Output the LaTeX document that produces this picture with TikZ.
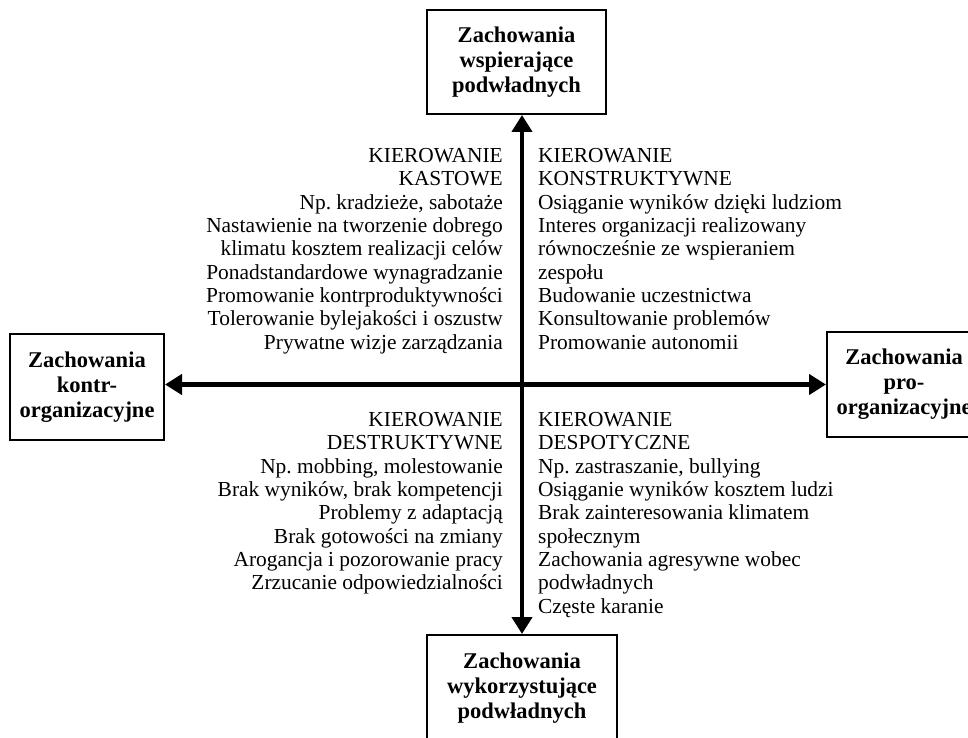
\documentclass[tikz,border=0pt]{standalone}
\usepackage{fontspec}
\setmainfont{Liberation Serif}
\usetikzlibrary{arrows.meta}
\frenchspacing
\begin{document}
\begin{tikzpicture}[x=1pt,y=-1pt,
  box/.style={draw, line width=2pt, align=center, inner sep=0pt,
    font=\bfseries\fontsize{22.5}{25}\selectfont},
  quad/.style={inner sep=0pt, font=\fontsize{21.4}{23.35}\selectfont},
  axis/.style={line width=4.5pt, {Triangle[length=17pt,width=20pt]}-{Triangle[length=17pt,width=20pt]}}]
  \useasboundingbox (0,0) rectangle (968,738);
  \clip (0,0) rectangle (968,738);
  \fill[white] (0,0) rectangle (968,738);

  % the four pole boxes
  \node[box, minimum width=179pt, minimum height=104pt] (top) at (516.5,62)
    {Zachowania\\wspierające\\podwładnych};
  \node[box, minimum width=154pt, minimum height=106pt] (left) at (87,387)
    {Zachowania\\kontr-\\organizacyjne};
  \node[box, minimum width=154pt, minimum height=105pt] (right) at (904,384.5)
    {Zachowania\\pro-\\organizacyjne};
  \node[box, minimum width=190pt, minimum height=106pt] (bottom) at (522,688)
    {Zachowania\\wykorzystujące\\podwładnych};

  % the two axes
  \draw[axis] (bottom.north) -- (bottom.north |- top.south);
  \draw[axis] (right.west) -- (right.west -| left.east);

  % quadrant descriptions
  \node[quad, align=right, anchor=north east] (kast) at (503,148)
    {KIEROWANIE\\KASTOWE\\Np. kradzieże, sabotaże\\Nastawienie na tworzenie dobrego\\klimatu kosztem realizacji celów\\Ponadstandardowe wynagradzanie\\Promowanie kontrproduktywności\\Tolerowanie bylejakości i oszustw\\Prywatne wizje zarządzania};
  \node[quad, align=left, anchor=north west] (konst) at (538,148)
    {KIEROWANIE\\KONSTRUKTYWNE\\Osiąganie wyników dzięki ludziom\\Interes organizacji realizowany\\równocześnie ze wspieraniem\\zespołu\\Budowanie uczestnictwa\\Konsultowanie problemów\\Promowanie autonomii};
  \node[quad, align=right, anchor=north east] (destr) at (503,412)
    {KIEROWANIE\\DESTRUKTYWNE\\Np. mobbing, molestowanie\\Brak wyników, brak kompetencji\\Problemy z adaptacją\\Brak gotowości na zmiany\\Arogancja i pozorowanie pracy\\Zrzucanie odpowiedzialności};
  \node[quad, align=left, anchor=north west] (desp) at (538,412)
    {KIEROWANIE\\DESPOTYCZNE\\Np. zastraszanie, bullying\\Osiąganie wyników kosztem ludzi\\Brak zainteresowania klimatem\\społecznym\\Zachowania agresywne wobec\\podwładnych\\Częste karanie};
\end{tikzpicture}
\end{document}
